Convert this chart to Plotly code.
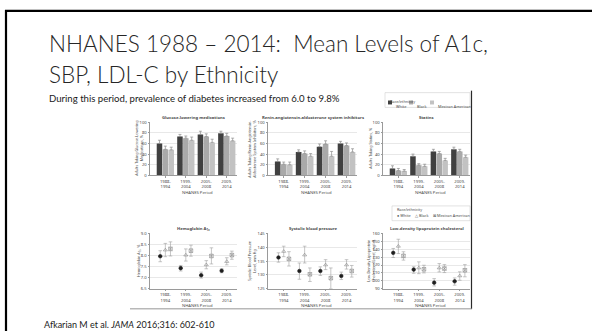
import plotly.graph_objects as go

W, H = 592, 333

# ---- data -------------------------------------------------------------
periods = ["1988-<br>1994", "1999-<br>2004", "2005-<br>2008", "2009-<br>2014"]
groups = ["White", "Black", "Mexican American"]

# Percent of adults with diabetes taking each medication class
glucose_white = [60, 73, 77, 79]
glucose_black = [49, 70, 73, 74]
glucose_mex = [48, 66, 62, 65]
glucose_err_white = [6, 4, 6, 4]
glucose_err_black = [6, 4, 5, 5]
glucose_err_mex = [5, 6, 6, 5]

raas_white = [26, 44, 54, 60]
raas_black = [21, 41, 59, 56]
raas_mex = [20, 36, 36, 44]
raas_err_white = [5, 4, 5, 4]
raas_err_black = [4, 5, 6, 5]
raas_err_mex = [5, 5, 9, 6]

statin_white = [13, 36, 45, 49]
statin_black = [9, 19, 41, 45]
statin_mex = [8, 17, 28, 34]
statin_err_white = [5, 4, 4, 4]
statin_err_black = [4, 3, 4, 4]
statin_err_mex = [3, 4, 4, 4]

# Mean levels with 95% CI
a1c_white = [7.97, 7.43, 7.11, 7.31]
a1c_white_lo = [7.72, 7.30, 6.98, 7.22]
a1c_white_hi = [8.22, 7.55, 7.25, 7.40]
a1c_black = [8.25, 8.02, 7.58, 7.73]
a1c_black_lo = [7.95, 7.75, 7.40, 7.58]
a1c_black_hi = [8.55, 8.30, 7.77, 7.90]
a1c_mex = [8.30, 8.22, 7.98, 8.02]
a1c_mex_lo = [7.98, 7.97, 7.62, 7.83]
a1c_mex_hi = [8.62, 8.47, 8.35, 8.20]

sbp_white = [136.3, 131.4, 131.4, 129.6]
sbp_white_lo = [134.6, 128.4, 129.8, 128.3]
sbp_white_hi = [138.0, 134.3, 132.9, 131.0]
sbp_black = [138.5, 137.2, 133.6, 133.6]
sbp_black_lo = [136.6, 134.3, 131.9, 132.1]
sbp_black_hi = [140.4, 140.4, 135.5, 135.5]
sbp_mex = [135.8, 130.2, 128.8, 131.4]
sbp_mex_lo = [133.2, 127.6, 125.0, 129.2]
sbp_mex_hi = [138.4, 132.5, 132.5, 133.4]

ldl_white = [135.4, 114.2, 97.6, 99.3]
ldl_white_lo = [129.5, 109.5, 93.4, 94.4]
ldl_white_hi = [141.0, 117.8, 102.7, 103.6]
ldl_black = [143.8, 116.3, 116.3, 106.2]
ldl_black_lo = [134.5, 109.0, 111.2, 100.6]
ldl_black_hi = [152.7, 124.0, 121.8, 111.4]
ldl_mex = [131.6, 114.6, 115.5, 113.3]
ldl_mex_lo = [126.2, 110.0, 110.4, 105.0]
ldl_mex_hi = [136.8, 119.7, 120.5, 120.5]

bar_ticks = [0, 20, 40, 60, 80, 100]
a1c_ticks = [6.5, 7.0, 7.5, 8.0, 8.5, 9.0]
sbp_ticks = [125, 130, 135, 140, 145]
ldl_ticks = [90, 100, 110, 120, 130, 140, 150, 160]

# ---- styling ----------------------------------------------------------
BAR_COLORS = ["#404040", "#a9a9a9", "#c2c2c2"]
DOT_COLORS = ["#1e1e1e", "#8a8a8a", "#8a8a8a"]
DOT_SYMBOLS = ["circle", "triangle-up-open", "square-x-open"]
AX_COLOR = "#9a9a9a"
GRID = "#e8e8e8"
TXT = "#4a4a4a"
FIG_FONT = "Noto Sans"
TS = 4.2


def px(x):
    return x / W


def py(y):
    return 1 - y / H


# panel columns (left, right) in pixels and rows (top, bottom)
cols = [(150, 237), (268, 357), (383, 470)]
rows = [(121, 175), (234, 290)]

fig = go.Figure()

panels = [
    # (row, col, ticks, range)
    (0, 0, bar_ticks, [0, 100]),
    (0, 1, bar_ticks, [0, 100]),
    (0, 2, bar_ticks, [0, 100]),
    (1, 0, a1c_ticks, [6.5, 9.0]),
    (1, 1, sbp_ticks, [125, 145]),
    (1, 2, ldl_ticks, [90, 160]),
]

for i, (r, c, ticks, yr) in enumerate(panels, start=1):
    sfx = "" if i == 1 else str(i)
    x0, x1 = cols[c]
    y0, y1 = rows[r]
    fig.layout["xaxis" + sfx] = dict(
        domain=[px(x0), px(x1)], anchor="y" + sfx, range=[-0.75, 3.5],
        tickvals=[0, 1, 2, 3], ticktext=periods, showgrid=False,
        showline=True, linecolor=AX_COLOR, linewidth=0.8, ticks="outside",
        ticklen=1.5, tickcolor=AX_COLOR, zeroline=False,
        tickfont=dict(family=FIG_FONT, size=TS, color=TXT),
        fixedrange=True,
    )
    fig.layout["yaxis" + sfx] = dict(
        domain=[py(y1), py(y0)], anchor="x" + sfx, range=yr, tickvals=ticks,
        ticktext=[f"{t:.1f}" if isinstance(t, float) else str(t) for t in ticks],
        showgrid=True, gridcolor=GRID, gridwidth=0.6, showline=True,
        linecolor=AX_COLOR, linewidth=0.8, ticks="outside", ticklen=1.5,
        tickcolor=AX_COLOR, zeroline=False,
        tickfont=dict(family=FIG_FONT, size=TS, color=TXT), fixedrange=True,
    )

# ---- bar panels -------------------------------------------------------
bar_sets = [
    ([glucose_white, glucose_black, glucose_mex],
     [glucose_err_white, glucose_err_black, glucose_err_mex]),
    ([raas_white, raas_black, raas_mex],
     [raas_err_white, raas_err_black, raas_err_mex]),
    ([statin_white, statin_black, statin_mex],
     [statin_err_white, statin_err_black, statin_err_mex]),
]
xs = [0, 1, 2, 3]
for p, (vals, errs) in enumerate(bar_sets, start=1):
    sfx = "" if p == 1 else str(p)
    for g in range(3):
        fig.add_trace(go.Bar(
            x=xs, y=vals[g], xaxis="x" + sfx, yaxis="y" + sfx,
            marker=dict(color=BAR_COLORS[g], line=dict(width=0)),
            offsetgroup=str(g), name=groups[g], showlegend=False,
            error_y=dict(type="data", array=errs[g], arrayminus=[0] * 4,
                         symmetric=False, color="#8c8c8c", thickness=0.7,
                         width=1.5),
        ))

# ---- dot panels -------------------------------------------------------
dot_sets = [
    ([a1c_white, a1c_black, a1c_mex],
     [a1c_white_lo, a1c_black_lo, a1c_mex_lo],
     [a1c_white_hi, a1c_black_hi, a1c_mex_hi]),
    ([sbp_white, sbp_black, sbp_mex],
     [sbp_white_lo, sbp_black_lo, sbp_mex_lo],
     [sbp_white_hi, sbp_black_hi, sbp_mex_hi]),
    ([ldl_white, ldl_black, ldl_mex],
     [ldl_white_lo, ldl_black_lo, ldl_mex_lo],
     [ldl_white_hi, ldl_black_hi, ldl_mex_hi]),
]
offsets = [-0.25, 0.0, 0.25]
for p, (means, los, his) in enumerate(dot_sets, start=4):
    sfx = str(p)
    for g in range(3):
        fig.add_trace(go.Scatter(
            x=[x + offsets[g] for x in xs], y=means[g],
            xaxis="x" + sfx, yaxis="y" + sfx, mode="markers",
            marker=dict(symbol=DOT_SYMBOLS[g], size=3.6, color=DOT_COLORS[g],
                        line=dict(width=0.6, color=DOT_COLORS[g])),
            error_y=dict(type="data", symmetric=False,
                         array=[h - m for h, m in zip(his[g], means[g])],
                         arrayminus=[m - l for m, l in zip(means[g], los[g])],
                         color="#a0a0a0", thickness=0.6, width=1.8),
            name=groups[g], showlegend=False,
        ))

fig.update_layout(barmode="group", bargap=0.14, bargroupgap=0.06)

# ---- panel titles, axis titles ---------------------------------------
ann = []
panel_titles = ["Glucose-lowering medications",
                "Renin-angiotensin-aldosterone system inhibitors",
                "Statins",
                "Hemoglobin A<sub>1c</sub>",
                "Systolic blood pressure",
                "Low-density lipoprotein cholesterol"]
y_titles = ["Adults Taking Glucose-Lowering<br>Medications, %",
            "Adults Taking Renin-Angiotensin-<br>Aldosterone System Inhibitors, %",
            "Adults Taking Statins, %",
            "Hemoglobin A<sub>1c</sub>, %",
            "Systolic Blood Pressure<br>Level, mm Hg",
            "Low-Density Lipoprotein<br>Cholesterol Level, mg/dL"]
ytitle_x = [139, 252, 371]
for i, (r, c, _, _) in enumerate(panels):
    x0, x1 = cols[c]
    y0, y1 = rows[r]
    ann.append(dict(text="<b>" + panel_titles[i] + "</b>", x=px((x0 + x1) / 2),
                    y=py(y0 - 5), xref="paper", yref="paper", showarrow=False,
                    font=dict(family=FIG_FONT, size=TS, color=TXT),
                    xanchor="center", yanchor="middle"))
    ann.append(dict(text=y_titles[i], x=px(ytitle_x[c]), y=py((y0 + y1) / 2),
                    xref="paper", yref="paper", showarrow=False, textangle=-90,
                    font=dict(family=FIG_FONT, size=3.7, color=TXT),
                    xanchor="center", yanchor="middle"))
    ann.append(dict(text="NHANES Period", x=px((x0 + x1) / 2 + 4),
                    y=py(y1 + 17), xref="paper", yref="paper",
                    showarrow=False,
                    font=dict(family=FIG_FONT, size=TS, color=TXT),
                    xanchor="center", yanchor="middle"))

# ---- legends ----------------------------------------------------------
shapes = []
# bar legend
shapes.append(dict(type="rect", xref="paper", yref="paper", x0=px(385),
                   x1=px(470), y0=py(106), y1=py(91),
                   line=dict(color="#d0d0d0", width=0.6)))
ann.append(dict(text="Race/ethnicity", x=px(388), y=py(95), xref="paper",
                yref="paper", showarrow=False, xanchor="left",
                font=dict(family=FIG_FONT, size=3.8, color=TXT)))
sw_x = [388, 409, 430]
for g in range(3):
    shapes.append(dict(type="rect", xref="paper", yref="paper",
                       x0=px(sw_x[g]), x1=px(sw_x[g] + 4), y0=py(103),
                       y1=py(99), fillcolor=BAR_COLORS[g],
                       line=dict(width=0)))
    ann.append(dict(text=groups[g], x=px(sw_x[g] + 5.5), y=py(101),
                    xref="paper", yref="paper", showarrow=False,
                    xanchor="left",
                    font=dict(family=FIG_FONT, size=3.8, color=TXT)))
# marker legend
shapes.append(dict(type="rect", xref="paper", yref="paper", x0=px(392),
                   x1=px(470), y0=py(221), y1=py(206),
                   line=dict(color="#d0d0d0", width=0.6)))
ann.append(dict(text="Race/ethnicity", x=px(395), y=py(210), xref="paper",
                yref="paper", showarrow=False, xanchor="left",
                font=dict(family=FIG_FONT, size=3.8, color=TXT)))
mk = ["●", "△", "⊠"]
mk_x = [395, 413, 431]
for g in range(3):
    ann.append(dict(text=mk[g] + " " + groups[g], x=px(mk_x[g]), y=py(216),
                    xref="paper", yref="paper", showarrow=False,
                    xanchor="left",
                    font=dict(family=FIG_FONT, size=3.8, color=TXT)))

# figure frame lines (right and bottom)
shapes.append(dict(type="line", xref="paper", yref="paper", x0=px(471.5),
                   x1=px(471.5), y0=py(89), y1=py(310.5),
                   line=dict(color="#2a2a2a", width=1.2)))
shapes.append(dict(type="line", xref="paper", yref="paper", x0=px(130),
                   x1=px(472), y0=py(310.5), y1=py(310.5),
                   line=dict(color="#7a7a7a", width=0.8)))
# slide border
shapes.append(dict(type="line", xref="paper", yref="paper", x0=px(5),
                   x1=px(592), y0=py(8), y1=py(8),
                   line=dict(color="#000000", width=2.2)))
shapes.append(dict(type="line", xref="paper", yref="paper", x0=px(6),
                   x1=px(6), y0=py(7), y1=py(333),
                   line=dict(color="#000000", width=2.2)))

# ---- slide text -------------------------------------------------------
TITLE_FONT = dict(family="Lato", size=22.5, color="#262626", weight=300)
ann.append(dict(text="NHANES 1988 – 2014:  Mean Levels of A1c,", x=px(47),
                y=py(41), xref="paper", yref="paper", showarrow=False,
                xanchor="left", yanchor="middle", font=TITLE_FONT))
ann.append(dict(text="SBP, LDL-C by Ethnicity", x=px(47), y=py(73),
                xref="paper", yref="paper", showarrow=False, xanchor="left",
                yanchor="middle", font=TITLE_FONT))
ann.append(dict(text="During this period, prevalence of diabetes increased from 6.0 to 9.8%",
                x=px(47), y=py(97), xref="paper", yref="paper",
                showarrow=False, xanchor="left", yanchor="middle",
                font=dict(family="Lato", size=9.6, color="#1a1a1a",
                          weight=400)))
ann.append(dict(text="Afkarian M et al. <i>JAMA</i> 2016;316: 602-610",
                x=px(42), y=py(326.5), xref="paper", yref="paper",
                showarrow=False, xanchor="left", yanchor="middle",
                font=dict(family="Lato", size=9, color="#1a1a1a")))

fig.update_layout(
    width=W, height=H, margin=dict(l=0, r=0, t=0, b=0),
    paper_bgcolor="white", plot_bgcolor="white",
    annotations=ann, shapes=shapes, showlegend=False,
)

fig.write_html("out.html", config={"displayModeBar": False})
